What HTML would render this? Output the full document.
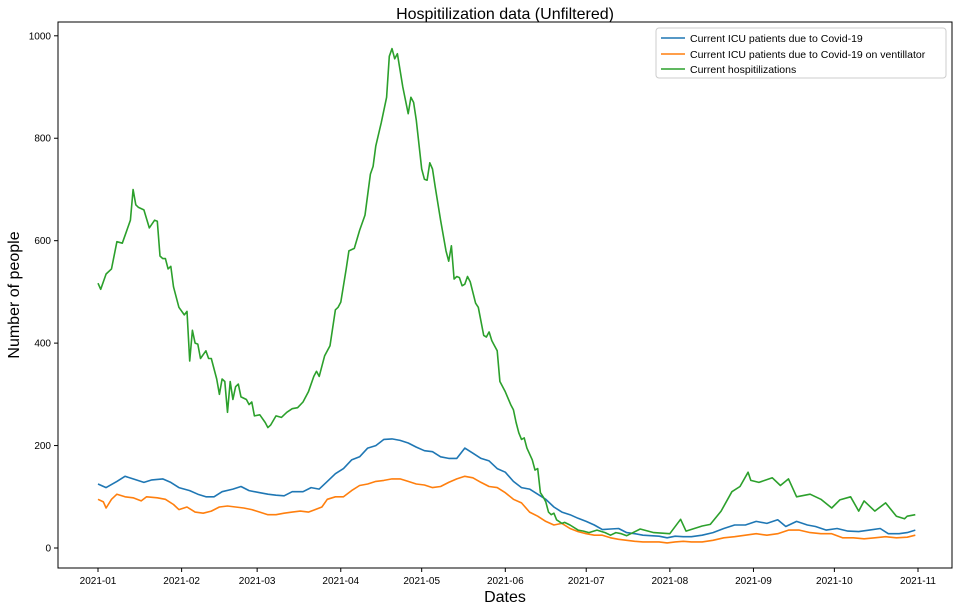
<!DOCTYPE html>
<html><head><meta charset="utf-8"><style>
body{margin:0;background:#fff;}
svg{font-family:"Liberation Sans","DejaVu Sans",sans-serif;}
</style></head><body>
<svg id="chart" width="958" height="611">
<rect x="0" y="0" width="958" height="611" fill="#fff"/>
<text x="505" y="19" font-size="16" text-anchor="middle">Hospitilization data (Unfiltered)</text>
<text x="505" y="602" font-size="16" text-anchor="middle">Dates</text>
<text transform="translate(19,295) rotate(-90)" font-size="16" text-anchor="middle">Number of people</text>
<g id="ticks"></g>
<g id="series"></g>
<rect x="58" y="22" width="894" height="546" fill="none" stroke="#000" stroke-width="1"/>
<g>
<rect x="656" y="28" width="290" height="50" fill="#fff" stroke="#ccc" rx="3"/>
<line x1="661" y1="38" x2="685" y2="38" stroke="#1f77b4" stroke-width="1.6"/>
<text x="690" y="42" font-size="10.5">Current ICU patients due to Covid-19</text>
<line x1="661" y1="54" x2="685" y2="54" stroke="#ff7f0e" stroke-width="1.6"/>
<text x="690" y="58" font-size="10.5">Current ICU patients due to Covid-19 on ventillator</text>
<line x1="661" y1="69" x2="685" y2="69" stroke="#2ca02c" stroke-width="1.6"/>
<text x="690" y="73" font-size="10.5">Current hospitilizations</text>
</g>
</svg>
<script>
const xTickLabels=["2021-01","2021-02","2021-03","2021-04","2021-05","2021-06","2021-07","2021-08","2021-09","2021-10","2021-11"];
const xTickDays=[0,31,59,90,120,151,181,212,243,273,304];
const yTicks=[0,200,400,600,800,1000];
const hospDays=[0,1,3,5,7,9,11,12,13,14,15,17,19,21,22,23,24,25,26,27,28,30,32,33,34,35,36,37,38,40,41,42,44,45,46,47,48,49,50,51,52,53,55,56,57,58,60,62,63,64,66,68,70,72,74,76,78,80,81,82,84,86,88,89,90,92,93,95,97,99,101,102,103,105,107,108,109,110,111,113,115,116,117,118,120,121,122,123,124,125,127,129,130,131,132,133,134,135,136,137,138,140,141,143,144,145,146,147,148,149,151,153,154,155,156,157,158,159,161,162,163,164,165,166,167,168,169,170,172,173,175,178,180,182,185,188,190,192,194,196,201,206,212,216,218,224,227,231,235,238,241,242,245,250,253,256,259,264,268,272,275,279,282,284,288,292,296,299,300,303];
const hospValues=[517,505,535,545,598,595,625,640,700,670,665,660,625,640,638,570,565,565,545,550,510,470,455,462,365,425,400,398,370,385,370,370,330,300,330,325,265,325,290,315,320,295,290,280,285,258,260,245,235,240,258,255,265,272,274,285,305,335,345,335,375,395,465,470,480,545,580,585,620,650,730,745,785,830,880,960,975,955,965,900,848,880,870,835,740,720,718,752,740,705,640,580,560,590,525,530,528,512,515,530,520,478,470,415,412,422,405,395,385,325,305,280,270,245,225,212,215,195,172,152,155,108,100,90,70,65,68,55,48,50,45,35,33,30,35,30,25,30,28,24,37,30,28,56,33,43,46,72,110,120,148,132,128,137,122,135,100,105,95,78,94,100,72,92,72,88,62,57,62,65];
const icuDays=[0,3,7,10,13,17,20,24,27,30,34,37,40,43,46,50,53,56,60,63,66,69,72,76,79,82,85,88,91,94,97,100,103,106,109,112,115,118,121,124,127,130,133,136,139,142,145,148,151,154,157,160,163,166,169,172,175,178,181,184,187,190,193,196,199,202,205,208,211,214,217,220,224,228,232,236,240,244,248,252,255,259,263,266,270,274,278,282,286,290,293,297,300,303];
const icuValues=[125,118,130,140,135,128,133,135,128,118,112,105,100,100,110,115,120,112,108,105,103,102,110,110,118,115,130,145,155,172,178,195,200,212,213,210,205,197,190,188,178,175,175,195,185,175,170,155,148,130,118,115,105,95,80,70,65,58,52,45,36,37,38,30,28,25,24,23,20,23,22,22,25,30,38,45,45,52,48,55,42,52,45,42,35,38,33,32,35,38,28,28,30,35];
const ventDays=[0,2,3,5,7,10,13,16,18,22,25,28,30,33,36,39,42,45,48,51,54,57,60,63,66,69,72,75,78,80,83,85,88,91,94,97,100,103,106,109,112,115,118,121,124,127,130,133,136,139,142,145,148,151,154,157,160,163,166,169,172,175,178,181,184,187,190,193,196,199,202,205,208,211,214,217,220,224,228,232,236,240,244,248,252,256,260,264,268,272,276,280,284,288,292,296,300,303];
const ventValues=[95,90,78,95,105,100,98,92,100,98,95,85,75,80,70,68,72,80,82,80,78,75,70,65,65,68,70,72,70,74,80,95,100,100,112,122,125,130,132,135,135,130,125,123,118,120,128,135,140,137,128,120,118,108,95,88,70,62,52,45,48,38,32,28,25,25,20,17,15,13,12,12,12,10,12,13,12,12,15,20,22,25,28,25,28,35,35,30,28,28,20,20,18,20,22,20,21,25];

const NS="http://www.w3.org/2000/svg";
const xS=d=>98+d*(820/304);
const yS=v=>548-v*0.5122;
const tg=document.getElementById('ticks');
xTickDays.forEach((d,i)=>{
  const l=document.createElementNS(NS,'line');
  l.setAttribute('x1',xS(d));l.setAttribute('x2',xS(d));l.setAttribute('y1',568);l.setAttribute('y2',572);l.setAttribute('stroke','#000');
  
  
  tg.appendChild(l);
  const t=document.createElementNS(NS,'text');
  t.setAttribute('x',xS(d));t.setAttribute('y',584);t.setAttribute('font-size','10');t.setAttribute('text-anchor','middle');
  t.textContent=xTickLabels[i];
  
  
  tg.appendChild(t);
});
yTicks.forEach(v=>{
  const l=document.createElementNS(NS,'line');
  l.setAttribute('x1',54);l.setAttribute('x2',58);l.setAttribute('y1',yS(v));l.setAttribute('y2',yS(v));l.setAttribute('stroke','#000');
  
  
  tg.appendChild(l);
  const t=document.createElementNS(NS,'text');
  t.setAttribute('x',51);t.setAttribute('y',yS(v)+3.5);t.setAttribute('font-size','10');t.setAttribute('text-anchor','end');
  t.textContent=v;
  
  
  tg.appendChild(t);
});
const sg=document.getElementById('series');
function line(days,vals,color,name){
  const p=document.createElementNS(NS,'polyline');
  p.setAttribute('points',days.map((d,i)=>xS(d).toFixed(1)+','+yS(vals[i]).toFixed(1)).join(' '));
  p.setAttribute('fill','none');p.setAttribute('stroke',color);p.setAttribute('stroke-width','1.6');p.setAttribute('stroke-linejoin','round');
  
  
  sg.appendChild(p);
}
line(icuDays,icuValues,'#1f77b4','icu-series-line');
line(ventDays,ventValues,'#ff7f0e','ventilator-series-line');
line(hospDays,hospValues,'#2ca02c','hospitalizations-series-line');
</script>
</body></html>
